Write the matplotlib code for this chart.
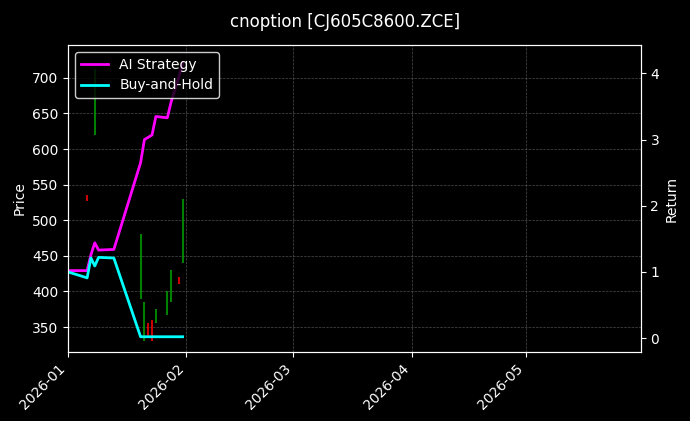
import matplotlib
matplotlib.use("Agg")
import matplotlib.pyplot as plt
import matplotlib.dates as mdates
import pandas as pd

line_dates = ["2026-01-01","2026-01-06","2026-01-07","2026-01-08","2026-01-09","2026-01-13","2026-01-20","2026-01-21","2026-01-23","2026-01-24","2026-01-27","2026-01-28","2026-01-30","2026-01-31"]
strategy = [1.02,1.02,1.26,1.44,1.33,1.34,2.65,3.00,3.07,3.35,3.33,3.57,3.94,4.15]
buyhold = [1.00,0.91,1.21,1.09,1.22,1.21,0.02,0.02,0.02,0.02,0.02,0.02,0.02,0.02]

candle_dates = ["2026-01-06","2026-01-08","2026-01-20","2026-01-21","2026-01-22","2026-01-23","2026-01-24","2026-01-27","2026-01-28","2026-01-30","2026-01-31"]
lows  = [527,620,390,330,335,330,355,367,385,410,440]
highs = [535,712,480,385,355,360,375,400,430,420,530]
up    = [False,True,True,True,False,False,True,True,True,False,True]

fig = plt.figure(figsize=(6.9,4.21), dpi=100, facecolor="black")
ax = fig.add_axes([0.0986,0.164,0.83,0.729], facecolor="black")
cd = pd.to_datetime(candle_dates)
for d,l,h,u in zip(cd,lows,highs,up):
    ax.vlines(d,l,h,color="#00a000" if u else "red",linewidth=1.5,alpha=0.8)
ax.set_ylim(315,746)
ax.set_ylabel("Price",color="white")
ax2 = ax.twinx()
ld = pd.to_datetime(line_dates)
ax2.plot(ld,strategy,color="magenta",lw=2,label="AI Strategy")
ax2.plot(ld,buyhold,color="cyan",lw=2,label="Buy-and-Hold")
ax2.set_ylim(-0.21,4.43)
ax2.set_ylabel("Return",color="white")
ax.set_xlim(pd.Timestamp("2026-01-01"),pd.Timestamp("2026-05-31"))
ax.xaxis.set_major_locator(mdates.MonthLocator())
ax.xaxis.set_major_formatter(mdates.DateFormatter("%Y-%m"))
for lab in ax.get_xticklabels():
    lab.set_rotation(45); lab.set_ha("right")
ax.grid(True,color="gray",linestyle="--",linewidth=0.5,alpha=0.6)
for a in (ax,ax2):
    a.tick_params(colors="white")
    for s in a.spines.values(): s.set_color("white")
leg = ax2.legend(loc="upper left",facecolor="black",edgecolor="white",labelcolor="white")
fig.suptitle("cnoption [CJ605C8600.ZCE]",color="white",y=0.97)
fig.savefig("out.png",facecolor="black")
